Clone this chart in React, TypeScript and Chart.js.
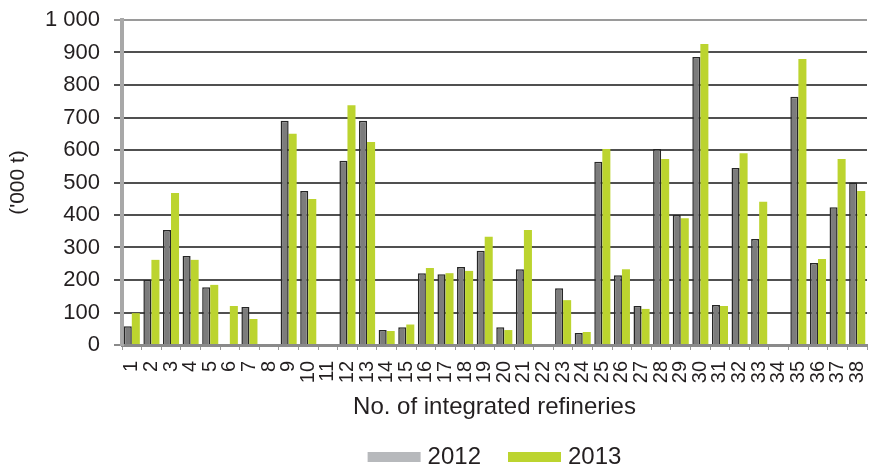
import React, { useEffect, useRef } from "react";
import { Chart, registerables } from "chart.js";

Chart.register(...registerables);

const CATEGORIES = Array.from({ length: 38 }, (_, i) => String(i + 1));
const SERIES_LABELS = ["2012", "2013"];
const VALUES_2012 = [58, 200, 354, 274, 178, 0, 117, 0, 690, 474, 0, 567, 690, 46, 55, 221, 218, 240, 290, 55, 233, 0, 175, 37, 564, 215, 120, 603, 400, 886, 123, 545, 326, 0, 764, 252, 424, 500];
const VALUES_2013 = [98, 262, 468, 262, 185, 120, 80, 0, 650, 449, 0, 738, 625, 43, 63, 237, 221, 228, 333, 46, 354, 0, 138, 40, 603, 233, 111, 572, 390, 926, 120, 590, 441, 0, 880, 265, 572, 474];
const Y_TITLE = "('000 t)";
const X_TITLE = "No. of integrated refineries";

const FONT = '"Liberation Sans", Arial, Helvetica, sans-serif';
const TEXT = "#231f20";
const LEGEND_COLORS = ["#b7b9bc", "#bcd42f"];

const fmtThousands = (v: number) => String(v).replace(/\B(?=(\d{3})+(?!\d))/g, " ");

const legendPlugin = {
  id: "bottomLegend",
  afterDraw(chart: any) {
    const ctx = chart.ctx;
    ctx.save();
    ctx.font = `24px ${FONT}`;
    const boxW = 53, boxH = 10, gap = 7, itemGap = 27;
    const labels = chart.data.datasets.map((d: any) => d.label);
    const widths = labels.map((l: string) => boxW + gap + ctx.measureText(l).width);
    const total = widths.reduce((a: number, b: number) => a + b, 0) + itemGap * (labels.length - 1);
    const ca = chart.chartArea;
    let x = (ca.left + ca.right) / 2 - total / 2;
    const y = chart.height - 9;
    labels.forEach((l: string, i: number) => {
      ctx.fillStyle = LEGEND_COLORS[i];
      ctx.fillRect(x, y - boxH / 2, boxW, boxH);
      ctx.fillStyle = TEXT;
      ctx.textAlign = "left";
      ctx.textBaseline = "middle";
      ctx.fillText(l, x + boxW + gap, y);
      x += widths[i] + itemGap;
    });
    ctx.restore();
  },
};

export default function App() {
  const ref = useRef<HTMLCanvasElement | null>(null);
  useEffect(() => {
    if (!ref.current) return;
    const chart = new Chart(ref.current, {
      type: "bar",
      data: {
        labels: CATEGORIES,
        datasets: [
          {
            label: SERIES_LABELS[0],
            data: VALUES_2012,
            backgroundColor: "#7c7c7c",
            borderColor: "#262626",
            borderWidth: 1.5,
            categoryPercentage: 0.82,
            barPercentage: 1,
          },
          {
            label: SERIES_LABELS[1],
            data: VALUES_2013,
            backgroundColor: "#bcd42f",
            borderWidth: 0,
            categoryPercentage: 0.82,
            barPercentage: 1,
          },
        ],
      },
      options: {
        animation: false,
        responsive: false,
        maintainAspectRatio: false,
        layout: { padding: { top: 20, right: 3, left: 0, bottom: 0 } },
        plugins: {
          legend: { display: false },
          tooltip: { enabled: false },
        },
        scales: {
          x: {
            afterFit: (s: any) => {
              s.height = 121;
              s.paddingLeft = 0;
              s.paddingRight = 0;
            },
            grid: {
              drawOnChartArea: false,
              drawTicks: true,
              tickLength: 5,
              offset: true,
              color: "#9a9a9a",
            },
            border: { color: "#8a8a8a", width: 3 },
            ticks: {
              autoSkip: false,
              minRotation: 90,
              maxRotation: 90,
              padding: 11,
              color: TEXT,
              font: { family: FONT, size: 20 },
            },
            title: {
              display: true,
              text: X_TITLE,
              color: TEXT,
              font: { family: FONT, size: 24 },
              padding: { top: 4, bottom: 44 },
            },
          },
          y: {
            min: 0,
            max: 1000,
            afterFit: (s: any) => {
              s.width = 122;
              s.paddingTop = 0;
              s.paddingBottom = 0;
            },
            grid: {
              color: (c: any) => (c.tick && c.tick.value === 1000 ? "#9a9a9a" : c.tick && c.tick.value === 0 ? "#8a8a8a" : "#505050"),
              lineWidth: 2,
              tickLength: 8,
            },
            border: { color: "#a8a8a8", width: 4 },
            ticks: {
              stepSize: 100,
              padding: 14,
              color: TEXT,
              font: { family: FONT, size: 22 },
              callback: (v: any) => fmtThousands(Number(v)),
            },
            title: {
              display: true,
              text: Y_TITLE,
              color: TEXT,
              font: { family: FONT, size: 21 },
              padding: { top: 6, bottom: 0 },
            },
          },
        },
      },
      plugins: [legendPlugin],
    });
    return () => chart.destroy();
  }, []);
  return (
    <div style={{ position: "fixed", left: 0, top: 0, width: 870, height: 466, background: "#fff" }}>
      <canvas ref={ref} width={870} height={466} style={{ width: 870, height: 466, display: "block" }} />
    </div>
  );
}
